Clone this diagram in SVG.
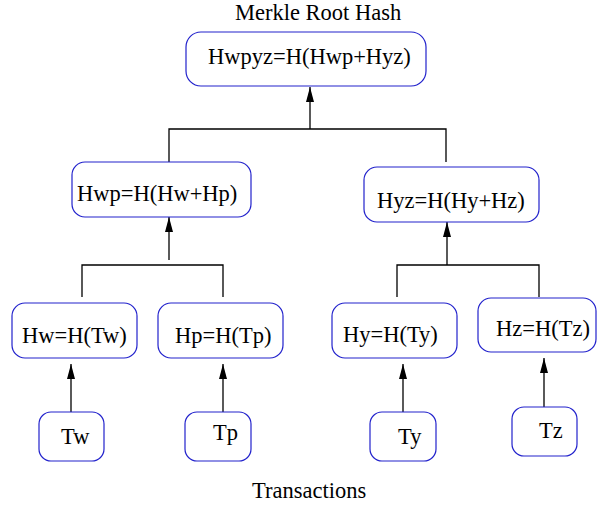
<svg xmlns="http://www.w3.org/2000/svg" width="597" height="510" viewBox="0 0 597 510">
<style>
.box{fill:#ffffff;stroke:#2222cc;stroke-width:1.2}
.t{font-family:"Liberation Serif","Times New Roman",serif;font-size:22.5px;fill:#000000}
.c{stroke:#000000;stroke-width:1.3;fill:none}
</style>
<defs>
<marker id="ah" markerUnits="userSpaceOnUse" markerWidth="16" markerHeight="9" refX="15" refY="4" orient="auto">
<path d="M0,0 L15,4 L0,8 z" fill="#000000"/>
</marker>
</defs>
<rect width="597" height="510" fill="#ffffff"/>
<text class="t" x="235" y="20">Merkle Root Hash</text>
<text class="t" x="252" y="498">Transactions</text>
<g id="connectors">
<line class="c" x1="310" y1="129" x2="310" y2="87" marker-end="url(#ah)"/>
<polyline class="c" points="169,162 169,129 446,129 446,162"/>
<line class="c" x1="169" y1="260" x2="169" y2="217" marker-end="url(#ah)"/>
<polyline class="c" points="82,297 82,265 223,265 223,297"/>
<line class="c" x1="447" y1="265" x2="447" y2="222" marker-end="url(#ah)"/>
<polyline class="c" points="397,297 397,265 539,265 539,297"/>
<line class="c" x1="71" y1="412" x2="71" y2="364" marker-end="url(#ah)"/>
<line class="c" x1="223" y1="412" x2="223" y2="364" marker-end="url(#ah)"/>
<line class="c" x1="403" y1="412" x2="403" y2="364" marker-end="url(#ah)"/>
<line class="c" x1="544" y1="407" x2="544" y2="358" marker-end="url(#ah)"/>
</g>
<g id="root"><rect class="box" x="186" y="32" width="240" height="54" rx="15"/><text class="t" x="208" y="64">Hwpyz=H(Hwp+Hyz)</text></g>
<g id="hwp"><rect class="box" x="72" y="162" width="179" height="55" rx="13"/><text class="t" x="77" y="201">Hwp=H(Hw+Hp)</text></g>
<g id="hyz"><rect class="box" x="364" y="167" width="175" height="55" rx="13"/><text class="t" x="377" y="208">Hyz=H(Hy+Hz)</text></g>
<g id="hw"><rect class="box" x="12" y="303" width="125" height="55" rx="13"/><text class="t" x="22" y="343">Hw=H(Tw)</text></g>
<g id="hp"><rect class="box" x="158" y="303" width="125" height="55" rx="13"/><text class="t" x="175" y="343">Hp=H(Tp)</text></g>
<g id="hy"><rect class="box" x="332" y="303" width="125" height="55" rx="13"/><text class="t" x="343" y="342">Hy=H(Ty)</text></g>
<g id="hz"><rect class="box" x="478" y="298" width="118" height="54" rx="13"/><text class="t" x="496" y="336">Hz=H(Tz)</text></g>
<g id="tw"><rect class="box" x="39" y="412" width="65" height="49" rx="12"/><text class="t" x="61" y="444">Tw</text></g>
<g id="tp"><rect class="box" x="185" y="412" width="66" height="49" rx="12"/><text class="t" x="213" y="440">Tp</text></g>
<g id="ty"><rect class="box" x="370" y="412" width="66" height="49" rx="12"/><text class="t" x="398" y="444">Ty</text></g>
<g id="tz"><rect class="box" x="512" y="407" width="65" height="49" rx="12"/><text class="t" x="539" y="438">Tz</text></g>
</svg>
